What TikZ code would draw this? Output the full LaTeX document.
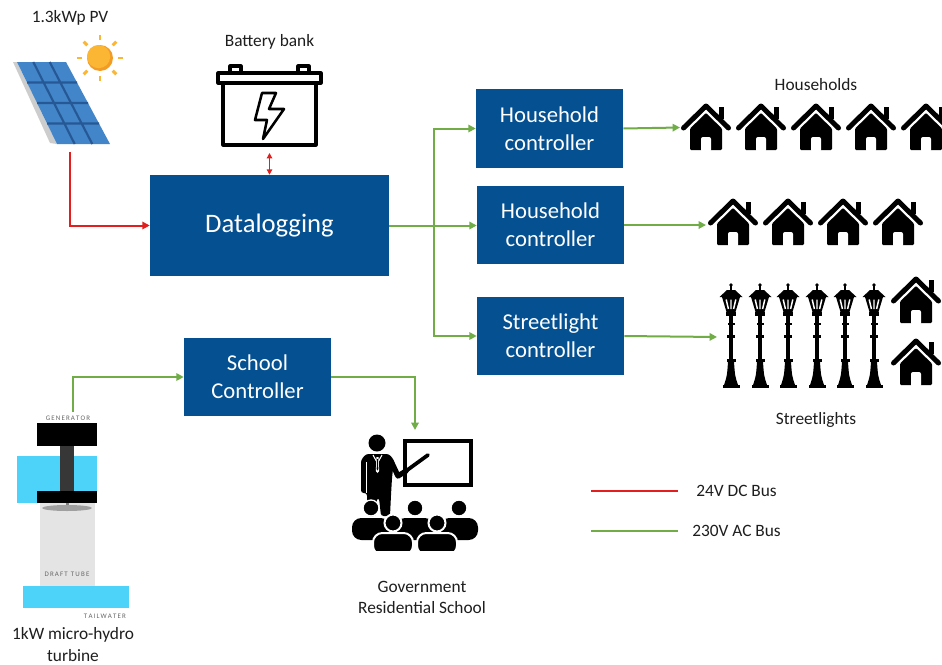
\documentclass[tikz,border=0pt]{standalone}
\usepackage{fontspec}
\setmainfont{Carlito}
\usetikzlibrary{arrows.meta,calc}
\definecolor{boxblue}{RGB}{4,80,145}
\definecolor{acgreen}{RGB}{112,173,71}
\definecolor{dcred}{RGB}{226,30,30}
\definecolor{txt}{RGB}{30,30,30}
\definecolor{panelblue}{RGB}{66,133,200}
\definecolor{panelline}{RGB}{38,88,150}
\definecolor{panelside}{RGB}{205,205,205}
\definecolor{sunlight}{RGB}{251,182,52}
\definecolor{sundark}{RGB}{243,156,36}
\definecolor{water}{RGB}{77,210,250}
\definecolor{tube}{RGB}{228,228,228}
\definecolor{shaft}{RGB}{55,55,55}

\tikzset{
  ctrl/.style={fill=boxblue, text=white, align=center, inner sep=0pt,
    font=\fontsize{17}{21}\selectfont},
  lbl/.style={text=txt, align=center, inner sep=0pt,
    font=\fontsize{13}{16}\selectfont},
  tinylbl/.style={text=black!60, inner sep=0pt, font=\fontsize{5.2}{6}\selectfont},
  acbus/.style={draw=acgreen, line width=1.5pt},
  dcbus/.style={draw=dcred, line width=1.5pt},
  tip/.style={-{Triangle[length=5.5pt,width=5.5pt]}},
  % house icon, origin at the bottom centre
  house/.pic={
    \fill[black,rounded corners=0.8pt] (-16,-21.4) -- (0,-37) -- (16,-21.4) -- (16,0) -- (-16,0) -- cycle;
    \fill[white,rounded corners=1.5pt] (-5,2) -- (-5,-13) -- (5,-13) -- (5,2) -- cycle;
    \fill[black] (13,-43) rectangle (18,-31);
    \draw[black,line width=3.75pt,line cap=round,line join=round]
      (-22.5,-22) -- (0,-44) -- (22.5,-22);
  },
  % street lamp icon, origin at the bottom centre
  lamp/.pic={
    \fill[black] (-8.5,0) rectangle (8.5,-3);
    \fill[black] (-7,-3) .. controls (-4,-12) .. (-3,-26) -- (3,-26) .. controls (4,-12) .. (7,-3) -- cycle;
    \fill[black] (-4.5,-26) rectangle (4.5,-29);
    \fill[black] (-2,-29) rectangle (2,-72);
    \fill[black] (-4,-50) rectangle (4,-53);
    \fill[black] (-3.5,-63) rectangle (3.5,-65);
    \fill[black] (-5,-72) rectangle (5,-76);
    \fill[black] (-4.5,-76) -- (-9,-91) -- (9,-91) -- (4.5,-76) -- cycle;
    \draw[white,line width=1.1pt] (-4.8,-88.5) -- (-2.6,-79) (0,-88.5) -- (0,-79) (4.8,-88.5) -- (2.6,-79);
    \fill[black] (-11.5,-91) -- (-4,-98) -- (4,-98) -- (11.5,-91) -- cycle;
    \fill[black] (-1,-97) rectangle (1,-102);
    \fill[black] (0,-103) circle (1.8);
  },
}

\begin{document}
\begin{tikzpicture}[x=0.75pt,y=-0.75pt]
\clip (0,0) rectangle (942,664);
\fill[white] (0,0) rectangle (942,664);

% ---------- PV array and sun ----------
\node[lbl] (pvlbl) at (70,18) {1.3kWp PV};
\fill[panelside] (13,62) -- (17,62) -- (57,144) -- (50,143) -- cycle;
\fill[panelblue] (17,62) -- (66,62) -- (110,144) -- (57,144) -- cycle;
\draw[panelline,line width=1.6pt]
  (27,82.5) -- (77,82.5)
  (37,103) -- (88,103)
  (47,123.5) -- (99,123.5)
  (33.3,62) -- (74.7,144)
  (49.7,62) -- (92.3,144);
\fill[sundark] (100,58) circle (13);
\fill[sunlight] (98.6,56.6) circle (11.6);
\foreach \a in {0,45,...,315}
  \draw[sunlight,line width=2.2pt] ($(100,58)+(\a:18)$) -- ($(100,58)+(\a:23)$);
\coordinate (pvout) at (70,152);

% ---------- battery ----------
\node[lbl] (battlbl) at (269.5,42) {Battery bank};
\begin{scope}[line width=2.3pt,line join=round]
  \draw (230,66) rectangle (241,73);
  \draw (298,66) rectangle (309,73);
  \draw (218,73) rectangle (321,83);
  \draw (223,83) rectangle (316,145);
  \draw[line width=1.9pt] (262,93) -- (276,93) -- (269,109) -- (284,109) -- (263,139)
     -- (267,120) -- (255,120) -- cycle;
\end{scope}
\coordinate (batt) at (269.5,153);

% ---------- controllers ----------
\node[ctrl, minimum width=179.25pt, minimum height=75.75pt,
      font=\fontsize{20}{24}\selectfont] (dl) at (269.5,225.5) {Datalogging};
\node[ctrl, minimum width=110.25pt, minimum height=59.25pt] (hc1) at (549.5,128.5) {Household\\controller};
\node[ctrl, minimum width=110.25pt, minimum height=58.5pt] (hc2) at (550.5,225) {Household\\controller};
\node[ctrl, minimum width=110.25pt, minimum height=58.5pt] (slc) at (550.5,336) {Streetlight\\controller};
\node[ctrl, minimum width=110.25pt, minimum height=58.5pt] (sch) at (257.5,377) {School\\Controller};

% ---------- DC bus ----------
\draw[dcbus,tip] (pvout) |- (dl.west);
\draw[dcbus,{Triangle[length=4pt,width=4pt]}-{Triangle[length=4pt,width=4pt]},line width=1.2pt]
  (batt) -- (batt |- dl.north);

% ---------- AC bus to controllers ----------
\coordinate (jn) at (434,225.5);
\draw[acbus] (dl.east) -- (jn);
\draw[acbus,tip] (jn) -- (jn -| hc2.west);
\draw[acbus,tip] (jn) |- (hc1.west);
\draw[acbus,tip] (jn) |- (slc.west);

% ---------- loads ----------
\coordinate (h1in) at (680,127.5);
\coordinate (h2in) at (706,225);
\coordinate (slin) at (717,337);
\draw[acbus,tip] (hc1.east) -- (h1in);
\draw[acbus,tip] (hc2.east) -- (h2in);
\draw[acbus,tip] (slc.east) -- (slin);

\node[lbl] (hhlbl) at (816,85) {Households};
\foreach \cx in {706,761,816,871,926}
  \pic at (\cx,150) {house};
\foreach \cx in {733,788,843,898}
  \pic at (\cx,245) {house};
\foreach \cx in {731,760,788,817,845,874}
  \pic at (\cx,388) {lamp};
\pic at (916,323) {house};
\pic at (916,385) {house};
\node[lbl] (sllbl) at (816,420) {Streetlights};

% ---------- micro-hydro turbine ----------
\fill[water] (17,456) rectangle (97,503);
\fill[tube] (40,503) rectangle (95,587);
\fill[water] (23,586) rectangle (129,608);
\fill[black] (37,423) rectangle (97,446);
\fill[shaft] (60,446) rectangle (74,491);
\fill[black] (37,491) rectangle (97,503);
\fill[gray] (65.5,503) rectangle (68.5,510);
\fill[gray!75] (67,508) ellipse (25 and 3);
\node[tinylbl] (genlbl) at (68,418) {G\,E\,N\,E\,R\,A\,T\,O\,R};
\node[tinylbl] (dtlbl) at (67,574) {D\,R\,A\,F\,T\ \ T\,U\,B\,E};
\node[tinylbl] (twlbl) at (105,616) {T\,A\,I\,L\,W\,A\,T\,E\,R};
\node[lbl] (turblbl) at (73,644.5) {1kW micro-hydro\\turbine};
\coordinate (genout) at (73,412);
\draw[acbus,tip] (genout) |- (sch.west);

% ---------- school ----------
\coordinate (schin) at (415,430);
\draw[acbus,tip] (sch.east) -| (schin);
% board and pointer
\draw[black,line width=3pt] (405,441) rectangle (471,485);
\draw[black,line width=4pt,line cap=round,line join=round] (391,461) -- (398,476) -- (406,471);
\draw[black,line width=2.8pt,line cap=round] (406,471) -- (428,455);
% teacher
\fill[black] (377,443) circle (8.5);
\fill[black,rounded corners=2pt] (361,493) -- (361,460) -- (366,454) -- (389,454) -- (394,460)
  -- (392,478) -- (391,495) -- (390,516) -- (381,516) -- (379,498) -- (377,498) -- (376,516)
  -- (367,516) -- (367,493) -- cycle;
\draw[white,line width=0.7pt] (366.5,462) -- (366.5,493);
\draw[white,line width=0.8pt] (373,455) -- (377.5,463) -- (382,455);
\fill[white] (376.5,457) -- (378.5,457) -- (379.2,471) -- (377.5,473) -- (375.8,471) -- cycle;
\fill[black] (377,459) -- (378,459) -- (378.3,469) -- (377.5,470.5) -- (376.7,469) -- cycle;
% pupils, back row
\foreach \cx in {371,415,459} {
  \filldraw[black,draw=white,line width=1pt] (\cx,508) circle (8);
  \fill[black,rounded corners=7pt] (\cx-19,540) -- (\cx-19,518) -- (\cx+19,518) -- (\cx+19,540) -- cycle;
}
% pupils, front row
\foreach \cx in {393,437} {
  \filldraw[black,draw=white,line width=1.5pt] (\cx,523) circle (8.5);
  \filldraw[black,draw=white,line width=1.5pt,rounded corners=7pt]
    (\cx-20,555) -- (\cx-20,533) -- (\cx+20,533) -- (\cx+20,555) -- cycle;
}
\fill[white] (340,551) rectangle (490,565);
\node[lbl] (schlbl) at (422,597.5) {Government\\Residential School};

% ---------- legend ----------
\coordinate (dcA) at (591,491);
\coordinate (dcB) at (678,491);
\coordinate (acA) at (591,531);
\coordinate (acB) at (678,531);
\draw[dcbus,line width=1.3pt] (dcA) -- (dcB);
\draw[acbus,line width=1.3pt] (acA) -- (acB);
\node[lbl,anchor=west] (dclbl) at (696,491) {24V DC Bus};
\node[lbl,anchor=west] (aclbl) at (692,531) {230V AC Bus};
\end{tikzpicture}
\end{document}
